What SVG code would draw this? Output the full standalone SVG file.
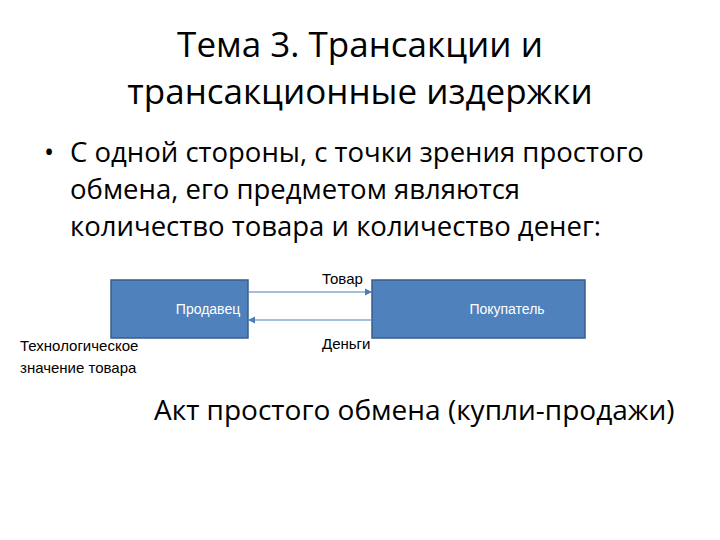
<svg xmlns="http://www.w3.org/2000/svg" width="720" height="540" viewBox="0 0 720 540">
<style>
.t{font-family:"Open Sans","Liberation Sans",sans-serif;fill:#000}
.box{fill:#4F81BD;stroke:#385D8A;stroke-width:1.5}
.bl{font-family:"Liberation Sans",sans-serif;font-size:14px;fill:#fff;text-anchor:middle}
.sm{font-family:"Liberation Sans",sans-serif;font-size:15px;fill:#000}
.c{stroke:#4A7EBB;stroke-width:1.2;fill:none}
</style>
<defs><marker id="ah" markerWidth="6" markerHeight="6" refX="5" refY="3" orient="auto"><path d="M0,0L6,3L0,6z" fill="#4A7EBB"/></marker></defs>
<rect width="720" height="540" fill="#fff"/>
<text class="t" font-size="35" text-anchor="middle"><tspan x="360" y="57">Тема 3. Трансакции и</tspan><tspan x="360" y="104">трансакционные издержки</tspan></text>
<text class="t" font-size="27" x="44" y="162">•</text>
<text class="t" font-size="27.5"><tspan x="70" y="162">С одной стороны, с точки зрения простого</tspan><tspan x="70" y="199">обмена, его предметом являются</tspan><tspan x="70" y="236">количество товара и количество денег:</tspan></text>
<g id="seller"><rect class="box" x="111" y="280" width="137" height="58"/><text class="bl" x="208" y="314">Продавец</text></g>
<g id="buyer"><rect class="box" x="372" y="280" width="213" height="58"/><text class="bl" x="507" y="314">Покупатель</text></g>
<g id="connectors">
<line class="c" x1="249" y1="292" x2="371" y2="292" marker-end="url(#ah)"/>
<line class="c" x1="371" y1="320" x2="249" y2="320" marker-end="url(#ah)"/>
</g>
<text class="sm" x="322" y="284">Товар</text>
<text class="sm" x="322" y="349">Деньги</text>
<text class="sm"><tspan x="20" y="351">Технологическое</tspan><tspan x="20" y="373">значение товара</tspan></text>
<text class="t" font-size="28" x="154" y="420">Акт простого обмена (купли-продажи)</text>
</svg>
